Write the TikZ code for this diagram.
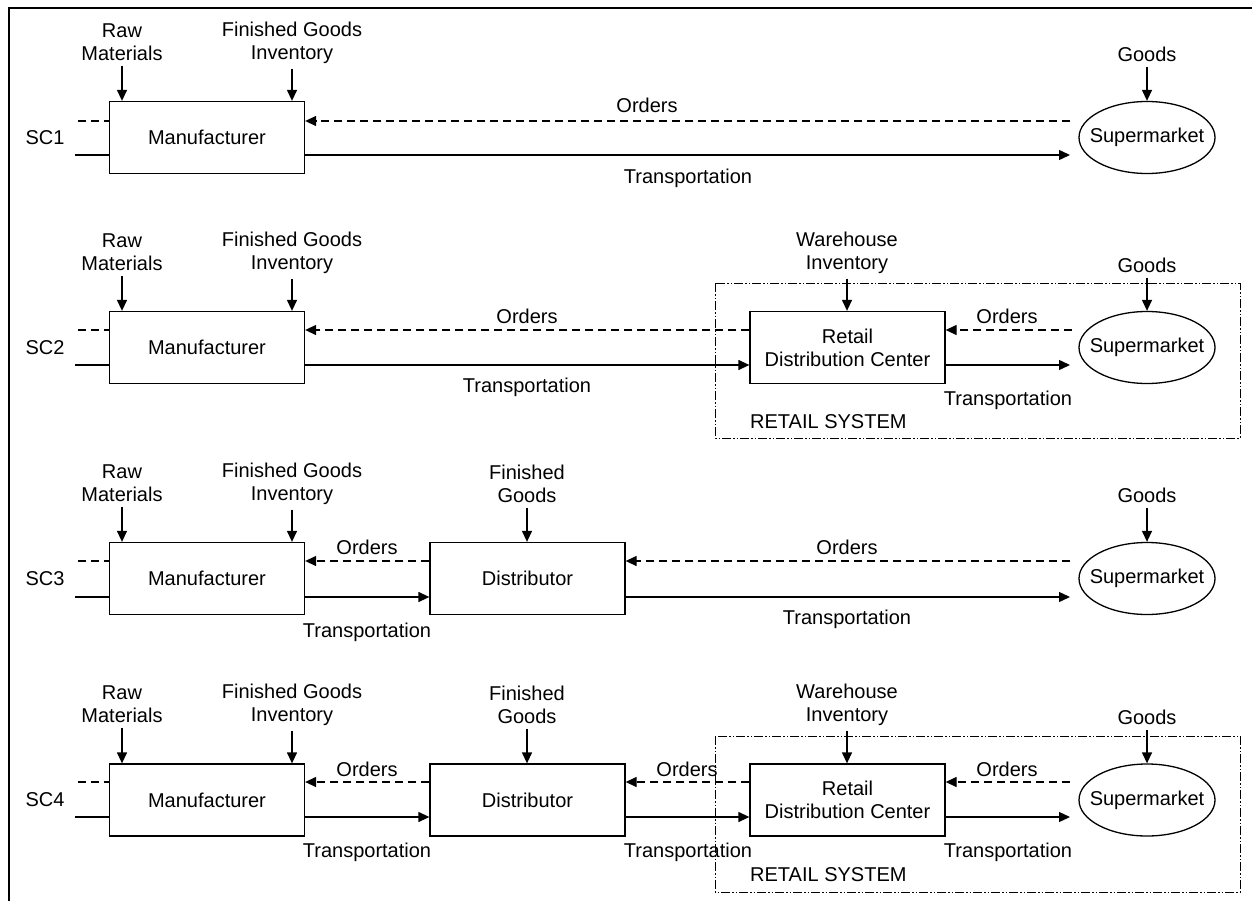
\documentclass[tikz,border=0pt]{standalone}
\usepackage{fontspec}
\setmainfont{Liberation Sans}
\usetikzlibrary{arrows.meta,shapes.geometric}
\begin{document}
\begin{tikzpicture}[x=1pt,y=-1pt,
  every node/.style={font=\fontsize{20}{23}\selectfont, inner sep=0pt},
  proc/.style={draw, line width=1.3pt, minimum width=195pt, minimum height=72pt, align=center},
  mkt/.style={draw, ellipse, line width=1.3pt, minimum width=136pt, minimum height=72pt, inner xsep=-10pt},
  lbl/.style={align=center},
  flow/.style={line width=1.3pt, -{Triangle[length=11pt,width=10pt]}},
  ord/.style={flow, dash pattern=on 8pt off 5pt},
  stubd/.style={line width=1.3pt, dash pattern=on 8pt off 5pt},
  stubs/.style={line width=1.3pt},
  sys/.style={line width=0.9pt, dash pattern=on 9pt off 2pt on 1.5pt off 2pt on 1.5pt off 2pt},
  frame/.style={line width=1.3pt}
]
\useasboundingbox (0,0) rectangle (1252,901);
\coordinate (fa) at (9,901);
\coordinate (fb) at (9,8);
\coordinate (fc) at (1252,8);
\draw[frame] (fa) -- (fb) -- (fc);

% ---------------- SC1 ----------------
\node (sc1) at (45,137.5) {SC1};
\node[proc] (m1) at (207,137.5) {Manufacturer};
\node[mkt] (s1) at (1147,137.5) {Supermarket};
\node[lbl] (rm1) at (122,42.5) {Raw\\Materials};
\node[lbl] (fg1) at (292,42.5) {Finished Goods\\Inventory};
\node (gd1) at (1147,54) {Goods};
\draw[flow] ([yshift=-5pt]rm1.south) -- (rm1.south |- m1.north);
\draw[flow] ([yshift=-5pt]fg1.south) -- (fg1.south |- m1.north);
\draw[flow] ([yshift=-5pt]gd1.south) -- (s1.north);
\coordinate (d1) at (78,121);
\coordinate (t1) at (75,155);
\draw[stubd] (d1) -- (d1 -| m1.west);
\draw[stubs] (t1) -- (t1 -| m1.west);
\coordinate (o1) at (1070,121);
\coordinate (e1) at (1070,155);
\draw[ord] (o1) -- (o1 -| m1.east);
\draw[flow] (e1 -| m1.east) -- (e1);
\node (ol1) at (647,105) {Orders};
\node (tl1) at (688,178) {Transportation};

% ---------------- SC2 ----------------
\node (sc2) at (45,347.5) {SC2};
\node[proc] (m2) at (207,347.5) {Manufacturer};
\node[proc] (r2) at (847.5,347.5) {Retail\\Distribution Center};
\node[mkt] (s2) at (1147,347.5) {Supermarket};
\node[lbl] (rm2) at (122,252.5) {Raw\\Materials};
\node[lbl] (fg2) at (292,252.5) {Finished Goods\\Inventory};
\node[lbl] (wh2) at (847,252.5) {Warehouse\\Inventory};
\node (gd2) at (1147,265) {Goods};
\draw[sys] (715,283) rectangle (1240,438);
\node[anchor=west] (rs2) at (750,422) {RETAIL SYSTEM};
\draw[flow] ([yshift=-5pt]rm2.south) -- (rm2.south |- m2.north);
\draw[flow] ([yshift=-5pt]fg2.south) -- (fg2.south |- m2.north);
\draw[flow] ([yshift=-5pt]wh2.south) -- (wh2.south |- r2.north);
\draw[flow] ([yshift=-5pt]gd2.south) -- (s2.north);
\coordinate (d2) at (78,330);
\coordinate (t2) at (75,365);
\draw[stubd] (d2) -- (d2 -| m2.west);
\draw[stubs] (t2) -- (t2 -| m2.west);
\draw[ord] (d2 -| r2.west) -- (d2 -| m2.east);
\draw[flow] (t2 -| m2.east) -- (t2 -| r2.west);
\coordinate (o2) at (1072,330);
\coordinate (e2) at (1070,365);
\draw[ord] (o2) -- (o2 -| r2.east);
\draw[flow] (e2 -| r2.east) -- (e2);
\node (ol2a) at (527,316) {Orders};
\node (tl2a) at (527,387) {Transportation};
\node (ol2b) at (1007,316) {Orders};
\node (tl2b) at (1008,400) {Transportation};

% ---------------- SC3 ----------------
\node (sc3) at (45,578.5) {SC3};
\node[proc] (m3) at (207,578.5) {Manufacturer};
\node[proc] (di3) at (527.5,578.5) {Distributor};
\node[mkt] (s3) at (1147,578.5) {Supermarket};
\node[lbl] (rm3) at (122,483.5) {Raw\\Materials};
\node[lbl] (fg3) at (292,483.5) {Finished Goods\\Inventory};
\node[lbl] (fd3) at (527,483.5) {Finished\\Goods};
\node (gd3) at (1147,495) {Goods};
\draw[flow] ([yshift=-5pt]rm3.south) -- (rm3.south |- m3.north);
\draw[flow] ([yshift=-5pt]fg3.south) -- (fg3.south |- m3.north);
\draw[flow] ([yshift=-5pt]fd3.south) -- (fd3.south |- di3.north);
\draw[flow] ([yshift=-5pt]gd3.south) -- (s3.north);
\coordinate (d3) at (78,561);
\coordinate (t3) at (75,597);
\draw[stubd] (d3) -- (d3 -| m3.west);
\draw[stubs] (t3) -- (t3 -| m3.west);
\draw[ord] (d3 -| di3.west) -- (d3 -| m3.east);
\draw[flow] (t3 -| m3.east) -- (t3 -| di3.west);
\coordinate (o3) at (1070,561);
\coordinate (e3) at (1070,597);
\draw[ord] (o3) -- (o3 -| di3.east);
\draw[flow] (e3 -| di3.east) -- (e3);
\node (ol3a) at (367,547) {Orders};
\node (tl3a) at (367,632) {Transportation};
\node (ol3b) at (847,547) {Orders};
\node (tl3b) at (847,619) {Transportation};

% ---------------- SC4 ----------------
\node (sc4) at (45,800) {SC4};
\node[proc] (m4) at (207,800) {Manufacturer};
\node[proc] (di4) at (527.5,800) {Distributor};
\node[proc] (r4) at (847.5,800) {Retail\\Distribution Center};
\node[mkt] (s4) at (1147,800) {Supermarket};
\node[lbl] (rm4) at (122,704.5) {Raw\\Materials};
\node[lbl] (fg4) at (292,704.5) {Finished Goods\\Inventory};
\node[lbl] (fd4) at (527,704.5) {Finished\\Goods};
\node[lbl] (wh4) at (847,704.5) {Warehouse\\Inventory};
\node (gd4) at (1147,717) {Goods};
\draw[sys] (715,736) rectangle (1240,892);
\node[anchor=west] (rs4) at (750,875) {RETAIL SYSTEM};
\draw[flow] ([yshift=-5pt]rm4.south) -- (rm4.south |- m4.north);
\draw[flow] ([yshift=-5pt]fg4.south) -- (fg4.south |- m4.north);
\draw[flow] ([yshift=-5pt]fd4.south) -- (fd4.south |- di4.north);
\draw[flow] ([yshift=-5pt]wh4.south) -- (wh4.south |- r4.north);
\draw[flow] ([yshift=-5pt]gd4.south) -- (s4.north);
\coordinate (d4) at (78,782);
\coordinate (t4) at (75,817);
\draw[stubd] (d4) -- (d4 -| m4.west);
\draw[stubs] (t4) -- (t4 -| m4.west);
\draw[ord] (d4 -| di4.west) -- (d4 -| m4.east);
\draw[flow] (t4 -| m4.east) -- (t4 -| di4.west);
\draw[ord] (d4 -| r4.west) -- (d4 -| di4.east);
\draw[flow] (t4 -| di4.east) -- (t4 -| r4.west);
\coordinate (o4) at (1070,782);
\coordinate (e4) at (1070,817);
\draw[ord] (o4) -- (o4 -| r4.east);
\draw[flow] (e4 -| r4.east) -- (e4);
\node (ol4a) at (367,769) {Orders};
\node (tl4a) at (367,852) {Transportation};
\node (ol4b) at (687,769) {Orders};
\node (tl4b) at (688,852) {Transportation};
\node (ol4c) at (1007,769) {Orders};
\node (tl4c) at (1008,852) {Transportation};
\end{tikzpicture}
\end{document}
